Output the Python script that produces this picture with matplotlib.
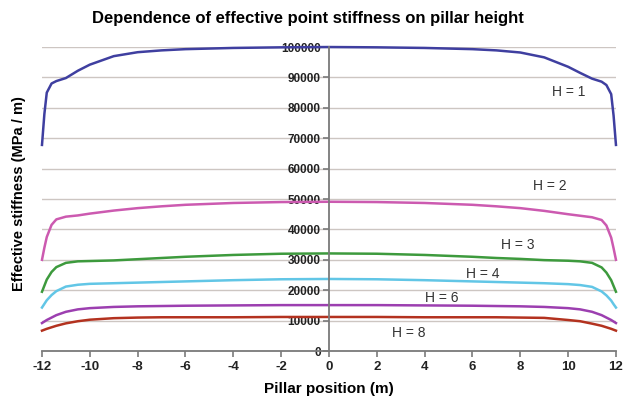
import matplotlib
matplotlib.use("Agg")
import matplotlib.pyplot as plt

plt.rcParams['font.family'] = ['Liberation Sans', 'DejaVu Sans']
plt.rcParams['axes.unicode_minus'] = False

# pillar positions (m)
x_pos = [-12, -11.9, -11.8, -11.6, -11.4, -11, -10.5, -10, -9, -8, -7, -6, -4, -2, 0,
         2, 4, 6, 7, 8, 9, 10, 10.5, 11, 11.4, 11.6, 11.8, 11.9, 12]

# effective stiffness (MPa / m) per pillar height
h1 = [67800, 78000, 85000, 88000, 88800, 89800, 92200, 94200, 97000, 98300, 98900, 99300, 99700, 99900, 100000,
      99900, 99700, 99300, 98900, 98200, 96600, 93500, 91500, 89600, 88600, 87500, 84500, 77500, 67800]
h2 = [30000, 34000, 37500, 41500, 43300, 44200, 44600, 45200, 46200, 47000, 47600, 48100, 48700, 49000, 49100,
      49000, 48700, 48100, 47600, 47000, 46100, 45000, 44500, 44000, 43100, 41300, 37300, 33800, 30000]
h3 = [19500, 21500, 23500, 26000, 27600, 29000, 29500, 29600, 29800, 30200, 30600, 31000, 31600, 32000, 32100,
      32000, 31600, 31000, 30600, 30300, 29900, 29700, 29500, 29000, 27500, 25800, 23300, 21400, 19500]
h4 = [14300, 15500, 16700, 18400, 19700, 21200, 21800, 22100, 22300, 22500, 22700, 22900, 23300, 23600, 23700,
      23600, 23300, 22900, 22700, 22500, 22300, 22000, 21700, 21100, 19600, 18300, 16600, 15400, 14300]
h6 = [9200, 9700, 10200, 11000, 11800, 12900, 13700, 14100, 14500, 14700, 14800, 14900, 15000, 15100, 15100,
      15100, 15000, 14900, 14800, 14700, 14500, 14100, 13700, 12900, 11800, 11000, 10200, 9700, 9200]
h8 = [6700, 7000, 7300, 7800, 8300, 9100, 9800, 10300, 10800, 11000, 11100, 11100, 11100, 11200, 11200,
      11200, 11100, 11100, 11100, 11000, 10900, 10200, 9800, 9000, 8300, 7800, 7300, 7000, 6700]

series = [h1, h2, h3, h4, h6, h8]
colors = ['#3f3fa0', '#cc5ab0', '#3d9a3d', '#62c6e6', '#9c3fb0', '#b3321f']
labels = ['H = 1', 'H = 2', 'H = 3', 'H = 4', 'H = 6', 'H = 8']
label_x = [10.03, 9.24, 7.9, 6.44, 4.72, 3.35]
label_y = [85200, 54300, 34900, 25300, 17400, 5900]

fig = plt.figure(figsize=(6.23, 4.03), dpi=100)
ax = fig.add_axes([0.0674, 0.129, 0.9213, 0.7543])

for y in range(10000, 100001, 10000):
    ax.axhline(y, color='#cdc6c2', linewidth=1.0, zorder=0)

for vals, col in zip(series, colors):
    ax.plot(x_pos, vals, color=col, linewidth=1.8, clip_on=False, zorder=3)

for lab, lx, ly in zip(labels, label_x, label_y):
    ax.text(lx, ly, lab, ha='center', va='center', fontsize=10, color='#333333')

ax.set_xlim(-12, 12)
ax.set_ylim(0, 100000)
ax.set_xticks(range(-12, 13, 2))
ax.set_yticks(range(0, 100001, 10000))

ax.spines['top'].set_visible(False)
ax.spines['right'].set_visible(False)
ax.spines['left'].set_position(('data', 0))
ax.spines['left'].set_color('#7a7a7a')
ax.spines['bottom'].set_color('#7a7a7a')
ax.spines['left'].set_linewidth(1.3)
ax.spines['bottom'].set_linewidth(1.3)
ax.spines['left'].set_zorder(4)

ax.tick_params(axis='both', colors='#7a7a7a', labelcolor='#222222', length=4, width=1.2)
ax.tick_params(axis='y', pad=2)
for t in ax.get_xticklabels():
    t.set_fontweight('bold')
    t.set_fontsize(9.5)
for t in ax.get_yticklabels():
    t.set_fontweight('bold')
    t.set_fontsize(8.5)

ax.set_xlabel('Pillar position (m)', fontsize=11, fontweight='bold', labelpad=6)
fig.text(0.03, 0.52, 'Effective stiffness (MPa / m)', rotation=90, ha='center', va='center',
         fontsize=10.5, fontweight='bold')
fig.text(0.494, 0.955, 'Dependence of effective point stiffness on pillar height', ha='center', va='center',
         fontsize=12, fontweight='bold')

fig.savefig('out.png', dpi=100)
